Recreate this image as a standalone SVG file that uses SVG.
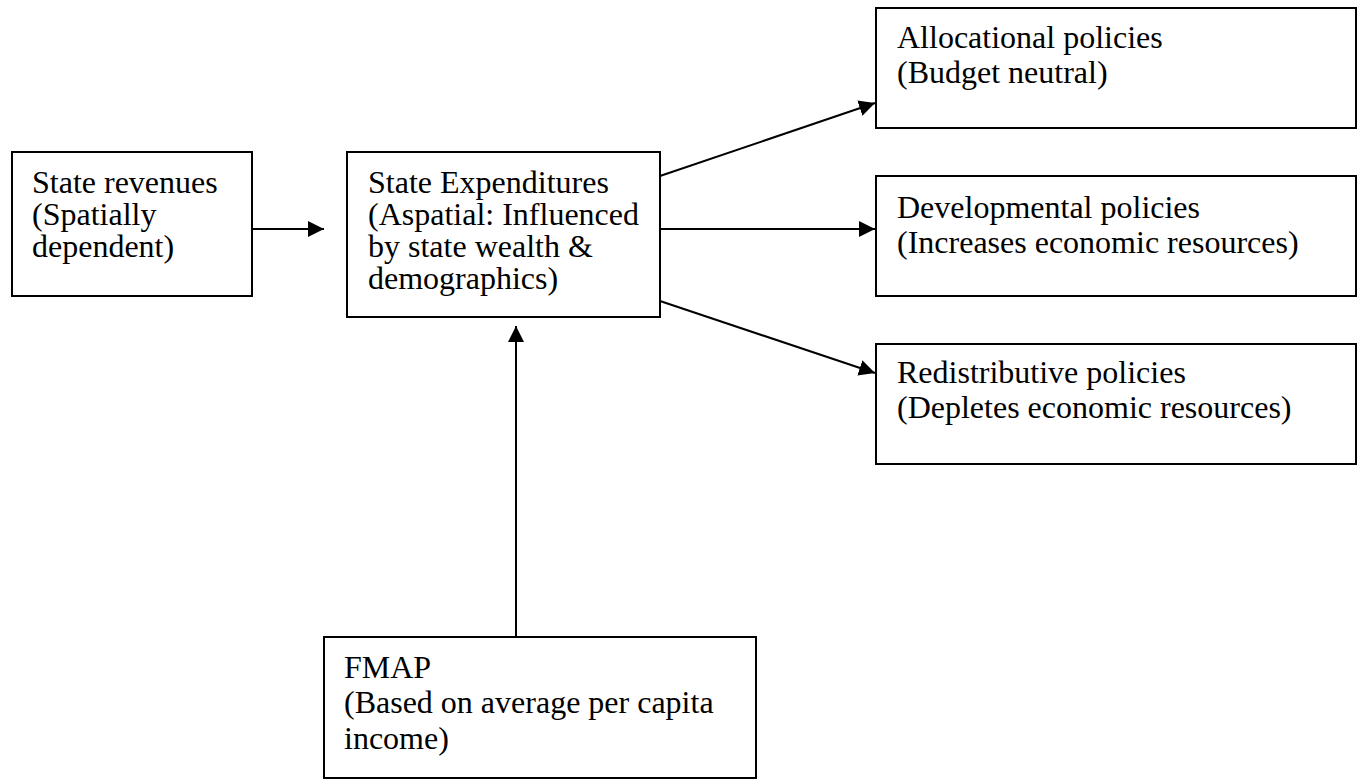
<svg xmlns="http://www.w3.org/2000/svg" width="1361" height="780" viewBox="0 0 1361 780">
<defs>
<style>
.box{fill:#ffffff;stroke:#000000;stroke-width:2}
.t{font-family:"Liberation Serif","Times New Roman",serif;font-size:32px;fill:#000000}
.c{stroke:#000000;stroke-width:2;fill:none}
</style>
<marker id="ah" markerUnits="userSpaceOnUse" markerWidth="18" markerHeight="18" refX="16" refY="8" orient="auto">
<path d="M0,0 L16,8 L0,16 z" fill="#000000"/>
</marker>
</defs>
<rect width="1361" height="780" fill="#ffffff"/>
<g id="revenues">
<rect class="box" x="12" y="152" width="240" height="144"/>
<text class="t" x="32" y="193">State revenues</text>
<text class="t" x="32" y="225">(Spatially</text>
<text class="t" x="32" y="257">dependent)</text>
</g>
<g id="expenditures">
<rect class="box" x="347" y="152" width="313" height="165"/>
<text class="t" x="368" y="193">State Expenditures</text>
<text class="t" x="368" y="225">(Aspatial: Influenced</text>
<text class="t" x="368" y="257">by state wealth &amp;</text>
<text class="t" x="368" y="289">demographics)</text>
</g>
<g id="allocational">
<rect class="box" x="876" y="8" width="480" height="120"/>
<text class="t" x="897" y="48">Allocational policies</text>
<text class="t" x="897" y="83">(Budget neutral)</text>
</g>
<g id="developmental">
<rect class="box" x="876" y="176" width="480" height="120"/>
<text class="t" x="897" y="218">Developmental policies</text>
<text class="t" x="897" y="253">(Increases economic resources)</text>
</g>
<g id="redistributive">
<rect class="box" x="876" y="344" width="480" height="120"/>
<text class="t" x="897" y="383">Redistributive policies</text>
<text class="t" x="897" y="418">(Depletes economic resources)</text>
</g>
<g id="fmap">
<rect class="box" x="324" y="637" width="432" height="141"/>
<text class="t" x="344" y="678">FMAP</text>
<text class="t" x="344" y="713">(Based on average per capita</text>
<text class="t" x="344" y="749">income)</text>
</g>
<g id="connectors">
<line class="c" x1="252" y1="229" x2="324" y2="229" marker-end="url(#ah)"/>
<line class="c" x1="660" y1="176" x2="875" y2="103" marker-end="url(#ah)"/>
<line class="c" x1="660" y1="229" x2="875" y2="229" marker-end="url(#ah)"/>
<line class="c" x1="660" y1="301" x2="875" y2="373" marker-end="url(#ah)"/>
<line class="c" x1="516" y1="637" x2="516" y2="326" marker-end="url(#ah)"/>
</g>
</svg>
